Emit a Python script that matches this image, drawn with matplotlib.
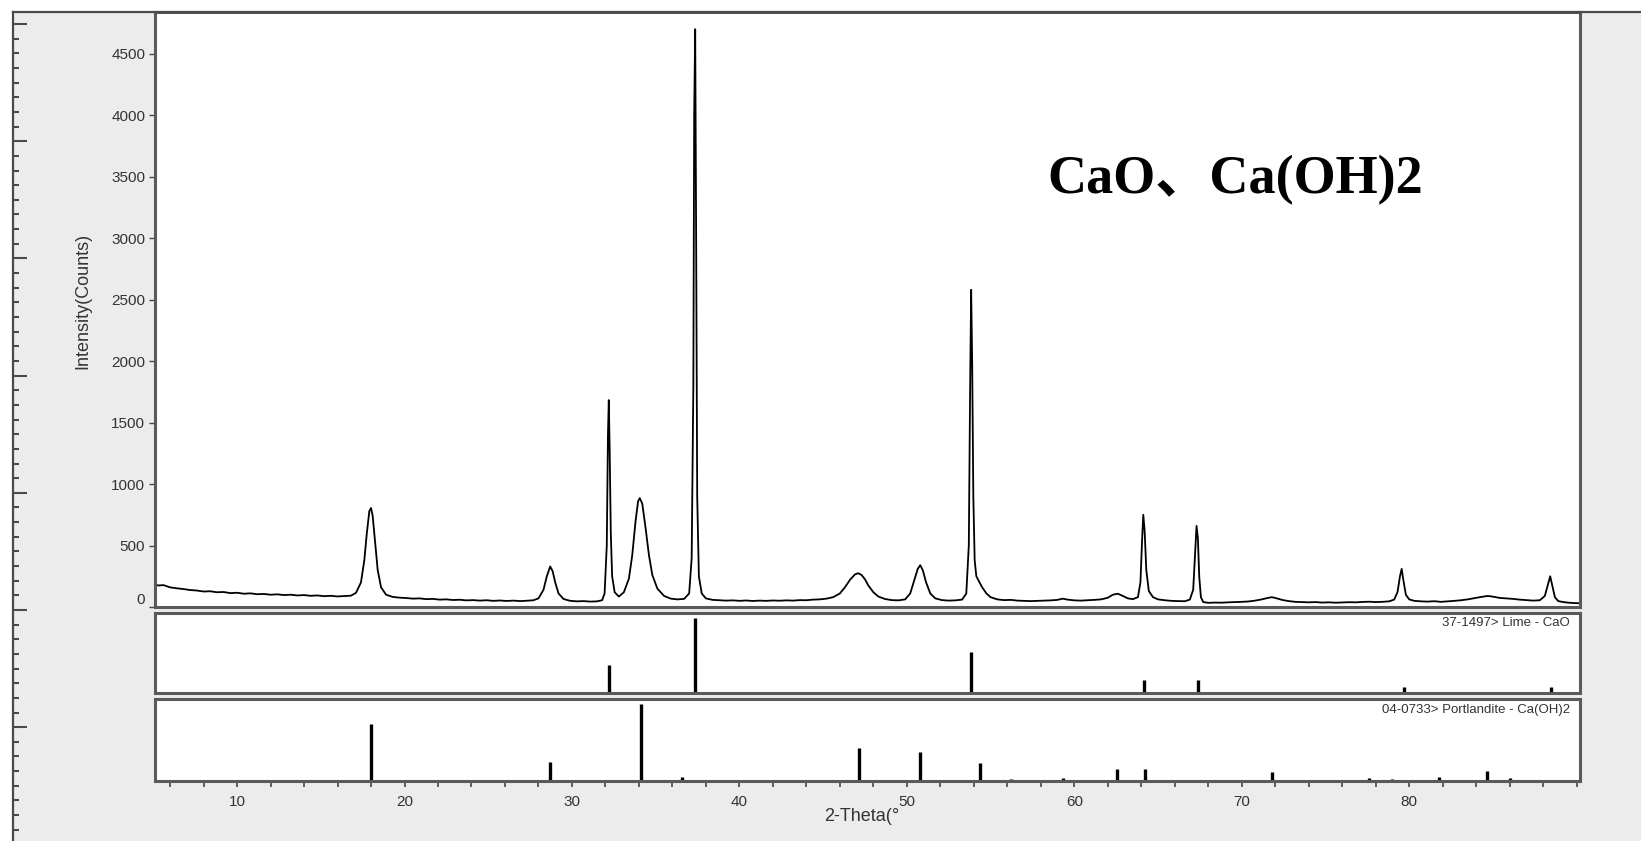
import numpy as np
import matplotlib
import matplotlib.pyplot as plt
from matplotlib.lines import Line2D
from matplotlib.patches import Rectangle
from matplotlib.ticker import MultipleLocator, FixedLocator, NullFormatter

matplotlib.use('Agg')
plt.rcParams['font.family'] = ['Liberation Sans', 'DejaVu Sans']

two_theta = [
    5.0, 5.3, 5.6, 6.0, 6.4, 6.8, 7.2, 7.6, 8.0, 8.4, 8.8, 9.2, 9.6, 10.0, 10.4, 10.8,
    11.2, 11.6, 12.0, 12.4, 12.8, 13.2, 13.6, 14.0, 14.4, 14.8, 15.2, 15.6, 16.0, 16.4,
    16.8, 17.1, 17.4, 17.6, 17.75, 17.9, 18.0, 18.1, 18.25, 18.4, 18.6, 18.9, 19.3, 19.7,
    20.1, 20.5, 20.9, 21.3, 21.7, 22.1, 22.5, 22.9, 23.3, 23.7, 24.1, 24.5, 24.9, 25.3,
    25.7, 26.1, 26.5, 26.9, 27.3, 27.7, 28.0, 28.3, 28.5, 28.7, 28.85, 29.0, 29.2, 29.5,
    29.9, 30.3, 30.7, 31.1, 31.5, 31.8, 31.95, 32.08, 32.15, 32.2, 32.25, 32.32, 32.4,
    32.55, 32.8, 33.1, 33.4, 33.6, 33.8, 33.95, 34.05, 34.2, 34.4, 34.6, 34.8, 35.1, 35.5,
    35.9, 36.3, 36.7, 37.0, 37.15, 37.25, 37.3, 37.36, 37.42, 37.48, 37.58, 37.75, 38.0,
    38.4, 38.8, 39.2, 39.6, 40.0, 40.4, 40.8, 41.2, 41.6, 42.0, 42.4, 42.8, 43.2, 43.6,
    44.0, 44.4, 44.8, 45.2, 45.6, 46.0, 46.3, 46.6, 46.9, 47.1, 47.3, 47.5, 47.7, 48.0,
    48.3, 48.7, 49.1, 49.5, 49.9, 50.2, 50.45, 50.65, 50.8, 50.95, 51.15, 51.4, 51.7,
    52.1, 52.5, 52.9, 53.3, 53.55, 53.7, 53.78, 53.84, 53.9, 53.97, 54.05, 54.15, 54.3,
    54.5, 54.75, 55.0, 55.4, 55.8, 56.2, 56.6, 57.0, 57.4, 57.8, 58.2, 58.6, 59.0, 59.3,
    59.6, 60.0, 60.4, 60.8, 61.2, 61.6, 62.0, 62.3, 62.6, 62.9, 63.2, 63.5, 63.8, 63.95,
    64.05, 64.12, 64.2, 64.3, 64.45, 64.7, 65.0, 65.4, 65.8, 66.2, 66.6, 66.9, 67.1,
    67.22, 67.3, 67.38, 67.46, 67.56, 67.7, 68.0, 68.4, 68.8, 69.2, 69.6, 70.0, 70.4,
    70.8, 71.2, 71.5, 71.8, 72.1, 72.4, 72.8, 73.2, 73.6, 74.0, 74.4, 74.8, 75.2, 75.6,
    76.0, 76.4, 76.8, 77.2, 77.6, 78.0, 78.4, 78.8, 79.1, 79.3, 79.45, 79.55, 79.65,
    79.8, 80.0, 80.3, 80.7, 81.1, 81.5, 81.9, 82.3, 82.7, 83.1, 83.5, 83.9, 84.3, 84.7,
    85.0, 85.4, 85.8, 86.2, 86.6, 87.0, 87.4, 87.8, 88.1, 88.3, 88.42, 88.55, 88.7, 88.9,
    89.2, 89.6, 90.2,
]
counts = [
    185, 175, 178, 160, 152, 146, 138, 134, 126, 128, 120, 122, 113, 116, 108, 111,
    104, 106, 100, 103, 97, 100, 94, 97, 91, 94, 88, 91, 86, 89,
    92, 115, 200, 380, 600, 780, 805, 740, 520, 300, 160, 100, 82, 76,
    73, 68, 70, 64, 66, 60, 62, 57, 59, 54, 56, 52, 55, 50,
    53, 49, 52, 48, 51, 55, 70, 140, 250, 330, 290, 200, 110, 65,
    50, 46, 48, 44, 46, 55, 110, 500, 1400, 1683, 1300, 600, 250,
    120, 85, 120, 230, 420, 700, 860, 886, 840, 640, 420, 260, 150, 90,
    68, 62, 66, 110, 400, 1800, 4000, 4700, 2900, 900, 250, 110, 70,
    58, 55, 52, 54, 50, 53, 49, 52, 50, 53, 51, 54, 52, 56,
    55, 60, 62, 68, 80, 110, 160, 220, 265, 275, 260, 225, 175, 120,
    85, 65, 56, 54, 62, 110, 220, 310, 340, 300, 200, 110, 70,
    56, 52, 54, 60, 110, 500, 1800, 2580, 2000, 900, 380, 250, 210,
    160, 110, 80, 62, 56, 58, 52, 50, 48, 50, 52, 54, 58, 68,
    60, 54, 52, 55, 58, 62, 75, 100, 108, 90, 70, 64, 80, 200,
    550, 750, 620, 300, 130, 80, 62, 55, 50, 48, 47, 60, 140,
    450, 660, 560, 250, 80, 40, 34, 36, 35, 38, 40, 42, 45,
    52, 62, 72, 80, 70, 58, 48, 42, 40, 38, 40, 36, 38, 35,
    37, 39, 38, 41, 43, 40, 42, 46, 60, 120, 250, 310, 220,
    100, 62, 50, 46, 44, 47, 42, 46, 50, 55, 62, 72, 82, 90,
    84, 74, 70, 66, 60, 56, 52, 55, 90, 190, 250, 170, 80, 48,
    40, 34, 30,
]

# reference sticks
lime_pos = [32.20, 37.36, 53.86, 64.16, 67.38, 79.68, 88.48]
lime_int = [37, 100, 55, 17, 17, 8, 8]
port_pos = [18.0, 28.66, 34.1, 36.6, 47.12, 50.8, 54.34, 56.2, 59.3, 62.55, 64.2,
            71.8, 77.6, 79.0, 81.8, 84.65, 86.0]
port_int = [74, 25, 100, 5, 43, 38, 23, 3, 4, 16, 16, 12, 4, 3, 5, 13, 4]

y_ticks = [0, 500, 1000, 1500, 2000, 2500, 3000, 3500, 4000, 4500]
x_ticks = [10, 20, 30, 40, 50, 60, 70, 80]

W, H = 1641, 841
frame_col = '#5a5a5a'
txt_col = '#333333'

fig = plt.figure(figsize=(W / 100, H / 100), dpi=100, facecolor='white')

# gray window area + frame lines
fig.patches.append(Rectangle((13 / W, 0), 1, 1 - 12 / H, transform=fig.transFigure,
                             facecolor='#ececec', edgecolor='none', zorder=-5))
fig.add_artist(Line2D([13 / W, 1], [1 - 12 / H] * 2, transform=fig.transFigure,
                      color='#4a4a4a', lw=1.6))

# ruler on the far left
ax_r = fig.add_axes([13 / W, 0, 0.0005, 1 - 12 / H])
ax_r.set_facecolor('none')
for s in ['top', 'right', 'bottom']:
    ax_r.spines[s].set_visible(False)
ax_r.spines['left'].set_color('#4a4a4a')
ax_r.spines['left'].set_linewidth(1.6)
ax_r.set_ylim(829, 0)
ax_r.set_xticks([])
ax_r.yaxis.set_major_locator(FixedLocator(np.arange(12, 829, 117.2)))
ax_r.yaxis.set_minor_locator(FixedLocator(np.arange(12, 829, 117.2 / 8)))
ax_r.yaxis.set_major_formatter(NullFormatter())
ax_r.tick_params(axis='y', which='major', direction='in', length=10, width=1.5, color='#4a4a4a')
ax_r.tick_params(axis='y', which='minor', direction='in', length=4, width=1.5, color='#4a4a4a')

left = 155 / W
width = (1580 - 155) / W


def panel(top_px, bot_px):
    a = fig.add_axes([left, 1 - bot_px / H, width, (bot_px - top_px) / H])
    for s in a.spines.values():
        s.set_color(frame_col)
        s.set_linewidth(2.2)
    a.set_xlim(5.1, 90.2)
    return a


# main pattern
ax = panel(12, 607)
ax.plot(two_theta, counts, color='black', lw=1.3)
ax.set_ylim(0, 4840)
ax.set_xticks([])
ax.set_yticks(y_ticks, labels=[str(v) for v in y_ticks])
ax.get_yticklabels()[0].set_verticalalignment('bottom')
ax.tick_params(axis='y', direction='out', length=4, width=1, color='#444444',
               labelsize=11, labelcolor=txt_col, pad=3)
ax.set_ylabel('Intensity(Counts)', fontsize=13, color=txt_col)
ax.yaxis.set_label_coords(-0.045, 0.515)
ax.text(0.626, 0.718, 'CaO、Ca(OH)2', transform=ax.transAxes, ha='left', va='center',
        fontsize=39, fontweight='bold', family=['Liberation Serif', 'Noto Sans CJK SC'])

# Lime - CaO sticks
ax1 = panel(613, 693)
ax1.vlines(lime_pos, 0, lime_int, color='black', lw=2.4)
ax1.set_ylim(0, 106.5)
ax1.set_xticks([])
ax1.set_yticks([])
ax1.text(0.993, 0.87, '37-1497> Lime - CaO', transform=ax1.transAxes, ha='right',
         va='center', fontsize=9.5, color=txt_col)

# Portlandite sticks
ax2 = panel(699, 781)
ax2.vlines(port_pos, 0, port_int, color='black', lw=2.4)
ax2.set_ylim(0, 106.5)
ax2.set_yticks([])
ax2.set_xticks(x_ticks)
ax2.xaxis.set_minor_locator(MultipleLocator(2))
ax2.tick_params(axis='x', which='both', direction='out', length=4, width=1.2,
                color='#444444', labelsize=11, labelcolor=txt_col, pad=6)
ax2.text(0.993, 0.865, '04-0733> Portlandite - Ca(OH)2', transform=ax2.transAxes,
         ha='right', va='center', fontsize=9.5, color=txt_col)
ax2.set_xlabel('2-Theta(°', fontsize=13, color=txt_col)
ax2.xaxis.set_label_coords(0.496, -0.33)

fig.savefig('out.png', dpi=100, facecolor=fig.get_facecolor())
plt.close()
